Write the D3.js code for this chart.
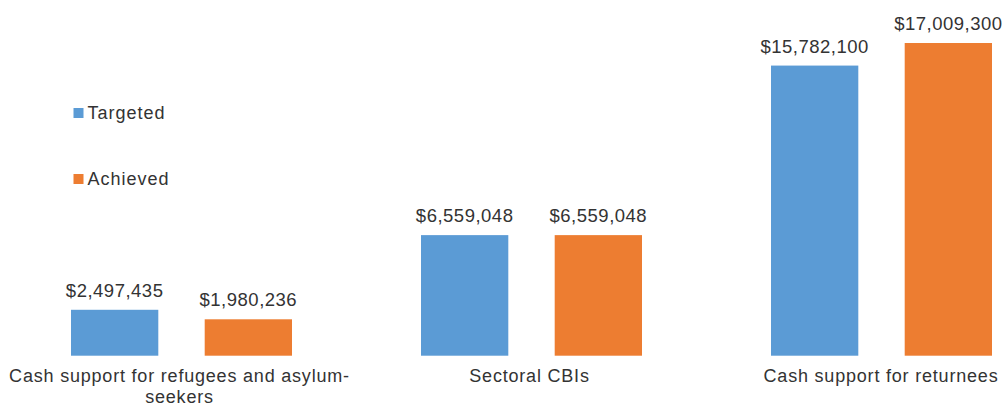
<!DOCTYPE html>
<html>
<head>
<meta charset="utf-8">
<script src="https://cdn.jsdelivr.net/npm/d3@7"></script>
<style>
  body { margin: 0; background: #fff; }
  svg { display: block; font-family: "Liberation Sans", Arial, sans-serif; }
</style>
</head>
<body>
<div id="chart"></div>
<script>
// data
const categories = [
  ["Cash support for refugees and asylum-", "seekers"],
  ["Sectoral CBIs"],
  ["Cash support for returnees"]
];
const seriesNames = ["Targeted", "Achieved"];
const targeted = [2497435, 6559048, 15782100];
const achieved = [1980236, 6559048, 17009300];

const colors = ["#5B9BD5", "#ED7D31"];
const textColor = "#333333";

const width = 1002, height = 405;

const svg = d3.select("#chart").append("svg")
  .attr("width", width)
  .attr("height", height);

// group scale (right edge of the original is cropped, so the range runs past the window)
const x0 = d3.scaleBand()
  .domain(d3.range(categories.length))
  .range([6.5, 1056.5])
  .padding(0);

const x1 = d3.scaleBand()
  .domain(seriesNames)
  .range([64.5, 285.5])
  .paddingInner(0.347)
  .paddingOuter(0);

const y = d3.scaleLinear()
  .domain([0, 18000000])
  .range([355.7, 24.8]);

const fmt = d3.format("$,");

const rows = categories.map((c, i) => ({
  i,
  values: [
    { key: "Targeted", value: targeted[i], color: colors[0] },
    { key: "Achieved", value: achieved[i], color: colors[1] }
  ]
}));

const groups = svg.selectAll("g.group")
  .data(rows)
  .enter().append("g")
  .attr("class", "group")
  .attr("transform", d => `translate(${x0(d.i)},0)`);

groups.selectAll("rect")
  .data(d => d.values)
  .enter().append("rect")
  .attr("x", d => x1(d.key))
  .attr("width", x1.bandwidth())
  .attr("y", d => y(d.value))
  .attr("height", d => y(0) - y(d.value))
  .attr("fill", d => d.color);

groups.selectAll("text.val")
  .data(d => d.values)
  .enter().append("text")
  .attr("class", "val")
  .attr("x", d => x1(d.key) + x1.bandwidth() / 2)
  .attr("y", d => y(d.value) - 13)
  .attr("text-anchor", "middle")
  .attr("fill", textColor)
  .style("font-size", "18.5px")
  .style("letter-spacing", "0.5px")
  .text(d => fmt(d.value));

// category labels
const cat = svg.selectAll("text.cat")
  .data(categories)
  .enter().append("text")
  .attr("class", "cat")
  .attr("text-anchor", "middle")
  .attr("fill", textColor)
  .style("font-size", "18px")
  .style("letter-spacing", "0.8px")
  .attr("x", (d, i) => i === 2 ? 881 : x0(i) + x0.bandwidth() / 2 - 2)
  .attr("y", 382);

cat.selectAll("tspan")
  .data(d => d)
  .enter().append("tspan")
  .attr("x", function () { return d3.select(this.parentNode).attr("x"); })
  .attr("dy", (d, i) => i === 0 ? 0 : 20.5)
  .text(d => d);

// legend
const legend = svg.selectAll("g.legend")
  .data(seriesNames)
  .enter().append("g")
  .attr("class", "legend")
  .attr("transform", (d, i) => `translate(73.5,${108 + i * 66})`);

legend.append("rect")
  .attr("width", 10)
  .attr("height", 10)
  .attr("fill", (d, i) => colors[i]);

legend.append("text")
  .attr("x", 14)
  .attr("y", 11)
  .attr("fill", textColor)
  .style("font-size", "18px")
  .style("letter-spacing", "1px")
  .text(d => d);
</script>
</body>
</html>
